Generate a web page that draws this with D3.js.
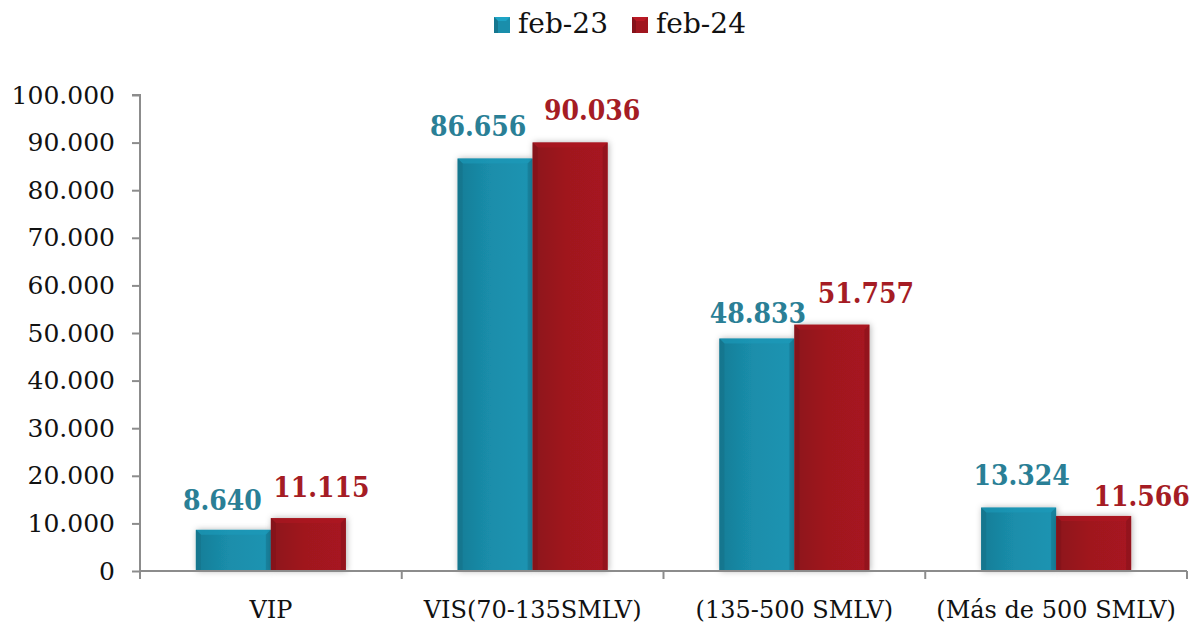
<!DOCTYPE html>
<html>
<head>
<meta charset="utf-8">
<script src="https://cdn.jsdelivr.net/npm/d3@7"></script>
<style>
  html, body { margin: 0; padding: 0; background: #fff; }
  svg { display: block; }
</style>
</head>
<body>
<svg id="chart" width="1192" height="624"></svg>
<script>
// Categories, series and tick values
const categories = ["VIP", "VIS(70-135SMLV)", "(135-500 SMLV)", "(Más de 500 SMLV)"];
const seriesNames = ["feb-23", "feb-24"];
const feb23 = [8640, 86656, 48833, 13324];
const feb24 = [11115, 90036, 51757, 11566];
const yTicks = [0, 10000, 20000, 30000, 40000, 50000, 60000, 70000, 80000, 90000, 100000];

const colors = { "feb-23": "#1a8eab", "feb-24": "#a0161f" };
const labelColors = { "feb-23": "#2a7f96", "feb-24": "#a51c24" };
// Small manual nudges (px) of the value labels, per series and category
const labelNudge = {
  "feb-23": [-11, -17, 1, 3],
  "feb-24": [13, 22, 34, 48]
};
const labelLift = {
  "feb-23": [20, 23, 16, 23],
  "feb-24": [21, 22, 22, 10]
};

const W = 1192, H = 624;
const margin = { left: 140, right: 5, top: 95, bottom: 53 };
const svg = d3.select("#chart");
const font = "'DejaVu Serif', 'Liberation Serif', serif";
const boldFont = "'DejaVu Serif Condensed', 'DejaVu Serif', serif";

const x0 = d3.scaleBand().domain(categories).range([margin.left, W - margin.right]).paddingInner(0).paddingOuter(0);
const x1 = d3.scaleBand().domain(seriesNames).range([0, x0.bandwidth()]).paddingInner(0).paddingOuter(0.745);
const y = d3.scaleLinear().domain([0, 100000]).range([H - margin.bottom, margin.top]);

const defs = svg.append("defs");
const shadow = defs.append("filter").attr("id", "shadow").attr("x", "-20%").attr("y", "-20%").attr("width", "140%").attr("height", "140%");
shadow.append("feDropShadow").attr("dx", 1).attr("dy", 0).attr("stdDeviation", 3).attr("flood-color", "#000").attr("flood-opacity", 0.3);

function gradient(id, c) {
  const base = d3.color(c);
  const g = defs.append("linearGradient").attr("id", id).attr("x1", 0).attr("x2", 1).attr("y1", 0).attr("y2", 0);
  g.append("stop").attr("offset", "0%").attr("stop-color", base.darker(0.35));
  g.append("stop").attr("offset", "45%").attr("stop-color", base);
  g.append("stop").attr("offset", "100%").attr("stop-color", base.brighter(0.12));
}
gradient("g-feb-23", colors["feb-23"]);
gradient("g-feb-24", colors["feb-24"]);

// Y axis
const yAxis = d3.axisLeft(y).tickValues(yTicks).tickSize(8).tickPadding(17)
  .tickFormat(d => d3.format(",")(d).replace(/,/g, "."));
const gy = svg.append("g").attr("transform", `translate(${margin.left},0)`).call(yAxis);
gy.select(".domain").attr("stroke", "#8c8c8c").attr("stroke-width", 2).attr("d", `M-8,${y(100000)}H0V${y(0)}`);
gy.selectAll(".tick line").attr("stroke", "#8c8c8c").attr("stroke-width", 2);
gy.selectAll(".tick text").attr("font-family", font).attr("font-size", 25).attr("fill", "#111");

// Bars
const rows = seriesNames.map(s => ({ name: s, values: s === "feb-23" ? feb23 : feb24 }));
const bev = 5;
categories.forEach((cat, i) => {
  rows.forEach(r => {
    const v = r.values[i];
    const bx = x0(cat) + x1(r.name), bw = x1.bandwidth();
    const by = y(v), bh = y(0) - y(v);
    const g = svg.append("g");
    g.append("rect").attr("x", bx).attr("y", by).attr("width", bw).attr("height", bh)
      .attr("fill", `url(#g-${r.name})`).attr("filter", "url(#shadow)");
    const base = d3.color(colors[r.name]);
    // bevel strips
    g.append("polygon").attr("points", [[bx, by], [bx + bw, by], [bx + bw - bev, by + bev], [bx + bev, by + bev]].join(" "))
      .attr("fill", base.brighter(0.25)).attr("opacity", 0.6);
    g.append("polygon").attr("points", [[bx, by], [bx + bev, by + bev], [bx + bev, by + bh], [bx, by + bh]].join(" "))
      .attr("fill", base.darker(0.6)).attr("opacity", 0.7);
    g.append("polygon").attr("points", [[bx + bw, by], [bx + bw, by + bh], [bx + bw - bev, by + bh], [bx + bw - bev, by + bev]].join(" "))
      .attr("fill", base.darker(0.4)).attr("opacity", 0.7);
    // value label
    svg.append("text")
      .attr("x", bx + bw / 2 + labelNudge[r.name][i])
      .attr("y", by - labelLift[r.name][i])
      .attr("text-anchor", "middle")
      .attr("font-family", boldFont).attr("font-weight", "bold").attr("font-size", 28)
      .attr("fill", labelColors[r.name])
      .text(d3.format(",")(v).replace(/,/g, "."));
  });
});

// X axis
const xAxis = d3.axisBottom(x0).tickSize(0).tickPadding(30);
const gx = svg.append("g").attr("transform", `translate(0,${y(0)})`).call(xAxis);
gx.select(".domain").attr("stroke", "#8c8c8c").attr("stroke-width", 2).attr("d", `M${margin.left},0H${W - margin.right}`);
gx.selectAll(".tick text").attr("font-family", font).attr("font-size", 24).attr("fill", "#111");
// category boundary ticks
const bounds = categories.map(c => x0(c)).concat([x0(categories[categories.length - 1]) + x0.bandwidth()]);
gx.selectAll(".bound").data(bounds).enter().append("line")
  .attr("x1", d => d).attr("x2", d => d).attr("y1", 0).attr("y2", 8)
  .attr("stroke", "#8c8c8c").attr("stroke-width", 2);

// Legend
const legend = svg.append("g").attr("transform", "translate(494,17)");
const lx = [0, 138];
seriesNames.forEach((s, i) => {
  const base = d3.color(colors[s]);
  const lg = legend.append("g").attr("transform", `translate(${lx[i]},0)`);
  lg.append("rect").attr("width", 16).attr("height", 16).attr("fill", base);
  lg.append("polygon").attr("points", "0,0 16,0 12,4 4,4").attr("fill", base.brighter(0.4));
  lg.append("polygon").attr("points", "0,0 4,4 4,16 0,16").attr("fill", base.darker(0.5));
  lg.append("text").attr("x", 24).attr("y", 16).attr("font-family", font).attr("font-size", 28).attr("fill", "#111").text(s);
});
</script>
</body>
</html>
